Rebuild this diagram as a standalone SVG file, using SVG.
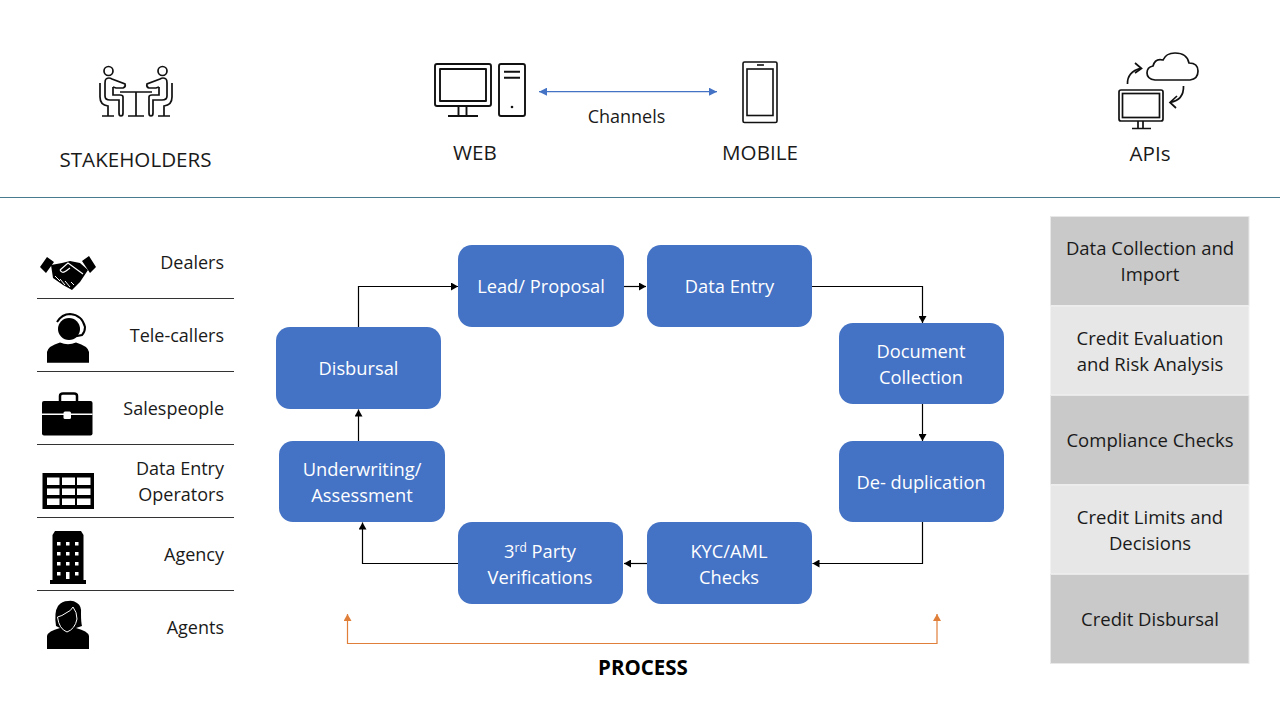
<svg xmlns="http://www.w3.org/2000/svg" width="1280" height="720" viewBox="0 0 1280 720">
<style>
text{font-family:"Open Sans","Noto Sans","Liberation Sans",sans-serif;fill:#1a1a1a}
.t{font-size:20.6px;text-anchor:middle}
.l{font-size:18px;text-anchor:end}
.n{font-size:18.3px;text-anchor:middle;fill:#fff}
.r{font-size:18.5px;text-anchor:middle}
.b{fill:#4472c4}
.o{fill:none;stroke:#111;stroke-width:1.9}
.k{fill:none;stroke:#000;stroke-width:1.2}
.s{stroke:#333;stroke-width:1}
.d{fill:#c9c9c9;stroke:#e8e8e8;stroke-width:1}
.e{fill:#e7e7e7;stroke:#f2f2f2;stroke-width:1}
</style>
<defs>
<marker id="ah" markerWidth="8" markerHeight="8" refX="7" refY="4" orient="auto" markerUnits="userSpaceOnUse"><path d="M0 0L7 4L0 8Z" fill="#000"/></marker>
<marker id="ab" markerWidth="9" markerHeight="8" refX="8" refY="4" orient="auto-start-reverse" markerUnits="userSpaceOnUse"><path d="M0 0L8 4L0 8Z" fill="#4472c4"/></marker>
<marker id="ao" markerWidth="8" markerHeight="8" refX="7" refY="4" orient="auto-start-reverse" markerUnits="userSpaceOnUse"><path d="M0 0L7 4L0 8Z" fill="#e07f3a"/></marker>
</defs>
<rect width="1280" height="720" fill="#fff"/>
<line x1="0" y1="197.500" x2="1280" y2="197.500" stroke="#4a7a90" stroke-width="1"/>

<g id="stakeholders">
<g class="o" style="stroke-width:1.700">
<circle cx="108.500" cy="71" r="4.500"/><circle cx="162.500" cy="71" r="4.500"/>
<path d="M120 92H152M136 92V116M128 116H144"/>
<path d="M100 83V97Q100 105 108 106V116M102 116H114"/>
<path d="M172 83V97Q172 105 164 106V116M158 116H170"/>
<path d="M106 79Q105 80 105 83V96Q105 100 110 100H119V113Q119 116 121 116Q123 116 123 113V97Q123 95 120 95H113V87"/>
<path d="M106 79Q109 77 112 79L125 84Q126 87 123 88H116L113 87"/>
<path d="M166 79Q167 80 167 83V96Q167 100 162 100H153V113Q153 116 151 116Q149 116 149 113V97Q149 95 152 95H159V87"/>
<path d="M166 79Q163 77 160 79L147 84Q146 87 149 88H156L159 87"/>
</g>
<text class="t" x="135.500" y="166.500">STAKEHOLDERS</text>
</g>

<g id="web">
<g class="o" stroke-linejoin="round">
<rect x="435" y="64" width="56" height="42" rx="2"/>
<rect x="440" y="69" width="46" height="32"/>
<path d="M458.500 106V116M466.500 106V116M448 116H478"/>
<rect x="499" y="64" width="26" height="52" rx="2"/>
<path d="M504 71.700H520M504 77.700H520"/>
</g>
<circle cx="512" cy="107" r="1.300" fill="#111"/>
<text class="t" x="475" y="159.500">WEB</text>
</g>

<g id="mobile">
<g class="o" style="stroke-width:1.600">
<rect x="743" y="62" width="34" height="60.500" rx="1.500"/>
<rect x="747" y="69" width="26" height="46.500"/>
<path d="M757 65H764"/>
</g>
<text class="t" x="760" y="159.500">MOBILE</text>
</g>

<g id="apis">
<g class="o" style="stroke-width:1.700">
<rect x="1119" y="90" width="44" height="31" rx="2"/>
<rect x="1122.500" y="93.500" width="37" height="24"/>
<path d="M1138 121V128.500M1143 121V128.500M1132 128.500H1151"/>
<path d="M1155 80H1190Q1198 79 1198 71Q1198 63 1189 63Q1187 53 1175 53Q1166 53 1163 60Q1155 58 1153 66Q1147 67 1147 73Q1147 79 1155 80Z"/>
<path d="M1127.500 84Q1127 72 1141 68M1135 63L1141.500 68.500L1135 73"/>
<path d="M1183.500 86Q1184 100 1170 102.500M1177 96L1170 102.500L1176 108"/>
</g>
<text class="t" x="1150" y="160.500">APIs</text>
</g>

<g id="channel-link"><line x1="539" y1="91.700" x2="717" y2="91.700" stroke="#4472c4" stroke-width="1.200" marker-start="url(#ab)" marker-end="url(#ab)"/>
<text x="626.500" y="122.500" style="font-size:18px;text-anchor:middle">Channels</text></g>

<g id="dealers">
<path d="M40 267L47 257L54 262L46 273Z M82 261L89 256L96 267L90 273Z" fill="#000"/>
<path d="M51 265L62 263L70 261L80 263L88 270L80 282L72 290L63 285L53 278Z" fill="#000"/>
<path d="M60 270L68 263L83 274M60 270Q62 274 66 271L70 268" fill="none" stroke="#fff" stroke-width="1.200"/>
<path d="M55 276L60 281M60 279L65 285M65 281L70 287M71 282L74 285" stroke="#fff" stroke-width="1"/>
<text class="l" x="224" y="269">Dealers</text></g>
<line class="s" x1="37" y1="298.500" x2="234" y2="298.500"/>

<g id="tele-callers">
<path d="M47 362.700V352Q48 346 60 342.500Q68 346 76 342.500Q88 346 89 352V362.700Z" fill="#000"/>
<circle cx="69" cy="329" r="11" fill="#000"/>
<path d="M57 322Q62 314 70 314Q82 315 85 327Q85 332 82 335L72 337" fill="none" stroke="#000" stroke-width="2"/>
<text class="l" x="224" y="342">Tele-callers</text></g>
<line class="s" x1="37" y1="371.500" x2="234" y2="371.500"/>

<g id="salespeople">
<path d="M60 401V396Q60 393.500 63 393.500H74Q77 393.500 77 396V401" fill="none" stroke="#000" stroke-width="2.500"/>
<rect x="42" y="401" width="50.500" height="34.500" rx="2" fill="#000"/>
<rect x="42" y="413.500" width="50.500" height="1.500" fill="#fff"/>
<rect x="63.500" y="411.500" width="7.500" height="7.500" rx="1.500" fill="#fff"/>
<text class="l" x="224" y="415">Salespeople</text></g>
<line class="s" x1="37" y1="444.500" x2="234" y2="444.500"/>

<g id="data-entry-operators">
<rect x="42.500" y="473" width="51.500" height="36" fill="#000"/>
<g fill="#fff">
<rect x="47" y="477.500" width="12.500" height="7.500"/><rect x="62" y="477.500" width="13" height="7.500"/><rect x="77" y="477.500" width="13.500" height="7.500"/>
<rect x="47" y="488.500" width="12.500" height="6.500"/><rect x="62" y="488.500" width="13" height="6.500"/><rect x="77" y="488.500" width="13.500" height="6.500"/>
<rect x="47" y="498.500" width="12.500" height="6.500"/><rect x="62" y="498.500" width="13" height="6.500"/><rect x="77" y="498.500" width="13.500" height="6.500"/>
</g>
<text class="l" x="224" y="475">Data Entry</text><text class="l" x="224" y="501">Operators</text></g>
<line class="s" x1="37" y1="517.500" x2="234" y2="517.500"/>

<g id="agency">
<path d="M52.500 580V535L55 531H81L83.500 535V580H86V584H50V580Z" fill="#000"/>
<g fill="#fff">
<rect x="57" y="542" width="3.500" height="3.500"/><rect x="66" y="542" width="3.500" height="3.500"/><rect x="75" y="542" width="3.500" height="3.500"/>
<rect x="57" y="552" width="3.500" height="3.500"/><rect x="66" y="552" width="3.500" height="3.500"/><rect x="75" y="552" width="3.500" height="3.500"/>
<rect x="57" y="562" width="3.500" height="3.500"/><rect x="66" y="562" width="3.500" height="3.500"/><rect x="75" y="562" width="3.500" height="3.500"/>
<rect x="57" y="572" width="3.500" height="3.500"/><rect x="66" y="572" width="3.500" height="7"/><rect x="75" y="572" width="3.500" height="3.500"/>
</g>
<text class="l" x="224" y="561">Agency</text></g>
<line class="s" x1="37" y1="590.500" x2="234" y2="590.500"/>

<g id="agents">
<path d="M47 649V636Q48 631 60 628L56 626Q54 612 58 606Q62 601 68 601Q73 600 77 603Q82 606 81 614Q81 622 82 626L76 628Q88 631 89 636V649Z" fill="#000"/>
<path d="M57.500 617Q62 616 66 613Q71 611 73 607Q77 612 77 619Q75 629 67 632Q59 629 57.500 617Z" fill="#000" stroke="#fff" stroke-width="1"/>
<text class="l" x="224" y="634">Agents</text></g>

<g id="connectors">
<path class="k" d="M358.500 327V286.500H458" marker-end="url(#ah)"/>
<path class="k" d="M624 286.500H646" marker-end="url(#ah)"/>
<path class="k" d="M812 286.500H922.500V323" marker-end="url(#ah)"/>
<path class="k" d="M922.500 404V441" marker-end="url(#ah)"/>
<path class="k" d="M922.500 522V563.500H812.500" marker-end="url(#ah)"/>
<path class="k" d="M647 563.500H624" marker-end="url(#ah)"/>
<path class="k" d="M458 563.500H362.500V522.500" marker-end="url(#ah)"/>
<path class="k" d="M358.500 441V409.500" marker-end="url(#ah)"/>
<path d="M347.500 614V643.500H937V614" fill="none" stroke="#e07f3a" stroke-width="1.200" marker-start="url(#ao)" marker-end="url(#ao)"/>
</g>

<g id="lead"><rect class="b" x="458" y="245" width="166" height="82" rx="14"/><text class="n" x="541" y="292.500">Lead/ Proposal</text></g>
<g id="data-entry"><rect class="b" x="647" y="245" width="165" height="82" rx="14"/><text class="n" x="729.500" y="292.500">Data Entry</text></g>
<g id="document"><rect class="b" x="839" y="323" width="165" height="81" rx="14"/><text class="n" x="921" y="357.500">Document</text><text class="n" x="921" y="383.500">Collection</text></g>
<g id="dedup"><rect class="b" x="839" y="441" width="165" height="81" rx="14"/><text class="n" x="921" y="488.500">De- duplication</text></g>
<g id="kyc"><rect class="b" x="647" y="522" width="165" height="82" rx="14"/><text class="n" x="729" y="557.500">KYC/AML</text><text class="n" x="729" y="583.500">Checks</text></g>
<g id="third-party"><rect class="b" x="458" y="522" width="165" height="82" rx="14"/><text class="n" x="540" y="557.500">3<tspan font-size="12" dy="-6">rd</tspan><tspan dy="6"> Party</tspan></text><text class="n" x="540" y="583.500">Verifications</text></g>
<g id="underwriting"><rect class="b" x="279" y="441" width="166" height="81" rx="14"/><text class="n" x="362" y="475.500">Underwriting/</text><text class="n" x="362" y="501.500">Assessment</text></g>
<g id="disbursal"><rect class="b" x="276" y="327" width="165" height="82" rx="14"/><text class="n" x="358.500" y="374.500">Disbursal</text></g>

<text x="643" y="675" style="font-size:20.500px;font-weight:700;text-anchor:middle;fill:#000">PROCESS</text>

<g id="panel">
<rect class="d" x="1050.500" y="216.500" width="198.500" height="89"/>
<rect class="e" x="1050.500" y="306" width="198.500" height="89"/>
<rect class="d" x="1050.500" y="395.500" width="198.500" height="89"/>
<rect class="e" x="1050.500" y="485" width="198.500" height="89"/>
<rect class="d" x="1050.500" y="574.500" width="198.500" height="89"/>
<text class="r" x="1150" y="254.500">Data Collection and</text><text class="r" x="1150" y="280.500">Import</text>
<text class="r" x="1150" y="344.500">Credit Evaluation</text><text class="r" x="1150" y="370.500">and Risk Analysis</text>
<text class="r" x="1150" y="446.500">Compliance Checks</text>
<text class="r" x="1150" y="523.500">Credit Limits and</text><text class="r" x="1150" y="549.500">Decisions</text>
<text class="r" x="1150" y="625.500">Credit Disbursal</text>
</g>
</svg>
